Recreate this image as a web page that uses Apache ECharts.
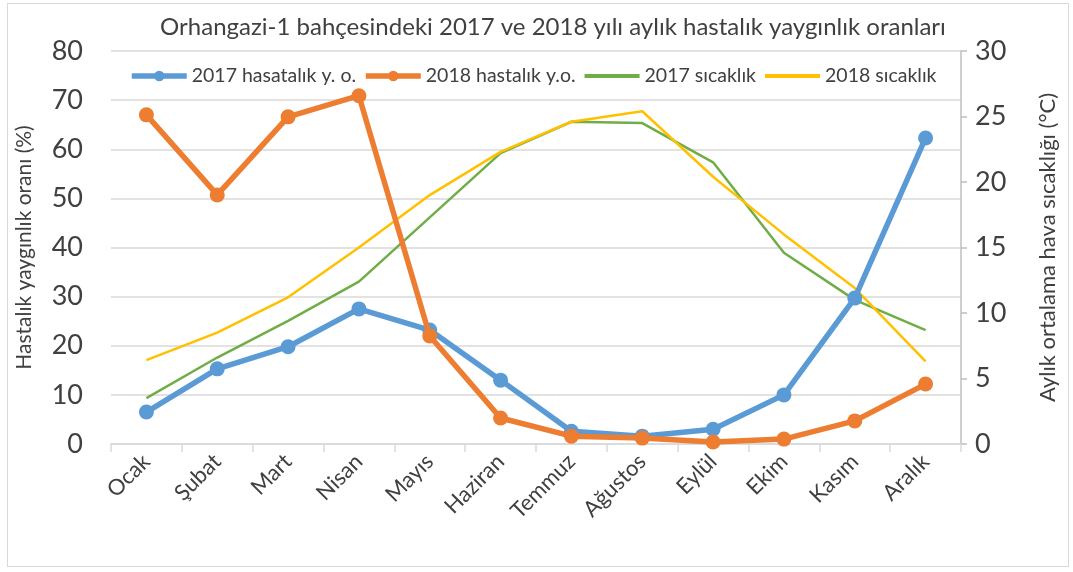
<!DOCTYPE html>
<html>
<head>
<meta charset="utf-8">
<script src="https://cdn.jsdelivr.net/npm/echarts@6/dist/echarts.min.js"></script>
<style>
	body{margin:0;background:#fff;}
	#frame{position:absolute;left:7px;top:3px;width:1060px;height:562px;border:1.5px solid #d9d9d9;}
	#myChart{position:absolute;left:0;top:0;width:1073px;height:572px;}
</style>
</head>
<body>
<div id="frame"></div>
<div id="myChart"></div>
<script>
// aylar
var months = ['Ocak', 'Şubat', 'Mart', 'Nisan', 'Mayıs', 'Haziran', 'Temmuz', 'Ağustos', 'Eylül', 'Ekim', 'Kasım', 'Aralık'];
// hastalık yaygınlık oranı (%)
var disease2017 = [6.5, 15.3, 19.8, 27.5, 23.2, 13.0, 2.6, 1.6, 3.0, 10.0, 29.7, 62.3];
var disease2018 = [67.0, 50.7, 66.6, 70.9, 22.0, 5.3, 1.6, 1.2, 0.4, 1.0, 4.7, 12.2];
// aylık ortalama sıcaklık (°C)
var temp2017 = [3.5, 6.6, 9.4, 12.4, 17.3, 22.2, 24.6, 24.5, 21.5, 14.6, 11.0, 8.7];
var temp2018 = [6.4, 8.5, 11.2, 15.0, 19.0, 22.3, 24.6, 25.4, 20.4, 16.0, 11.9, 6.3];

var font = 'Lato, "Open Sans", sans-serif';
var textColor = '#404040';

var myChart = echarts.init(document.getElementById('myChart'));
var option = {
	backgroundColor: 'transparent',
	animation: false,
	textStyle: {fontFamily: font},
	title: {
		text: 'Orhangazi-1 bahçesindeki 2017 ve 2018 yılı aylık hastalık yaygınlık oranları',
		left: 548, top: 10, textAlign: 'center',
		textStyle: {fontFamily: font, fontSize: 24, fontWeight: 'normal', color: textColor}
	},
	legend: {
		left: 124, top: 61,
		itemWidth: 55, itemHeight: 13, itemGap: 7,
		textStyle: {fontFamily: font, fontSize: 19.5, color: textColor},
		data: [
			{name: '2017 hasatalık y. o.', lineStyle: {width: 5.5}},
			{name: '2018 hastalık y.o.', lineStyle: {width: 5.5}},
			{name: '2017 sıcaklık', itemStyle: {opacity: 0}, lineStyle: {width: 4}},
			{name: '2018 sıcaklık', itemStyle: {opacity: 0}, lineStyle: {width: 4}}
		]
	},
	grid: {left: 111, right: 112, top: 51, bottom: 128},
	xAxis: {
		type: 'category',
		data: months,
		boundaryGap: true,
		axisLine: {lineStyle: {color: '#d9d9d9', width: 1.5}},
		axisTick: {show: true, length: 8, lineStyle: {color: '#d9d9d9', width: 1.5}},
		axisLabel: {rotate: 45, fontSize: 22, color: textColor, margin: 14, interval: 0}
	},
	yAxis: [{
		type: 'value', min: 0, max: 80, interval: 10,
		name: 'Hastalık yaygınlık oranı (%)',
		nameLocation: 'middle', nameGap: 76, nameRotate: 90,
		nameTextStyle: {fontFamily: font, fontSize: 21, color: textColor},
		axisLine: {show: false}, axisTick: {show: false},
		axisLabel: {fontSize: 27, color: textColor, margin: 28},
		splitLine: {lineStyle: {color: '#d9d9d9', width: 1.5}}
	}, {
		type: 'value', min: 0, max: 30, interval: 5,
		name: 'Aylık ortalama hava sıcaklığı (°C)',
		nameLocation: 'middle', nameGap: 76, nameRotate: 90,
		nameTextStyle: {fontFamily: font, fontSize: 22, color: textColor},
		axisLine: {show: true, lineStyle: {color: '#bfbfbf', width: 1.5}},
		axisTick: {show: true, length: 6, lineStyle: {color: '#bfbfbf', width: 1.5}},
		axisLabel: {fontSize: 27, color: textColor, margin: 14},
		splitLine: {show: false}
	}],
	series: [{
		name: '2017 hasatalık y. o.', type: 'line', yAxisIndex: 0,
		data: disease2017, symbol: 'circle', symbolSize: 15,
		lineStyle: {width: 5.5, color: '#5b9bd5'}, itemStyle: {color: '#5b9bd5'}, z: 3
	}, {
		name: '2018 hastalık y.o.', type: 'line', yAxisIndex: 0,
		data: disease2018, symbol: 'circle', symbolSize: 15,
		lineStyle: {width: 5.5, color: '#ed7d31'}, itemStyle: {color: '#ed7d31'}, z: 4
	}, {
		name: '2017 sıcaklık', type: 'line', yAxisIndex: 1,
		data: temp2017, symbol: 'none',
		lineStyle: {width: 2.5, color: '#70ad47'}, itemStyle: {color: '#70ad47'}, z: 2
	}, {
		name: '2018 sıcaklık', type: 'line', yAxisIndex: 1,
		data: temp2018, symbol: 'none',
		lineStyle: {width: 2.5, color: '#ffc000'}, itemStyle: {color: '#ffc000'}, z: 2
	}]
};
myChart.setOption(option);
</script>
</body>
</html>
